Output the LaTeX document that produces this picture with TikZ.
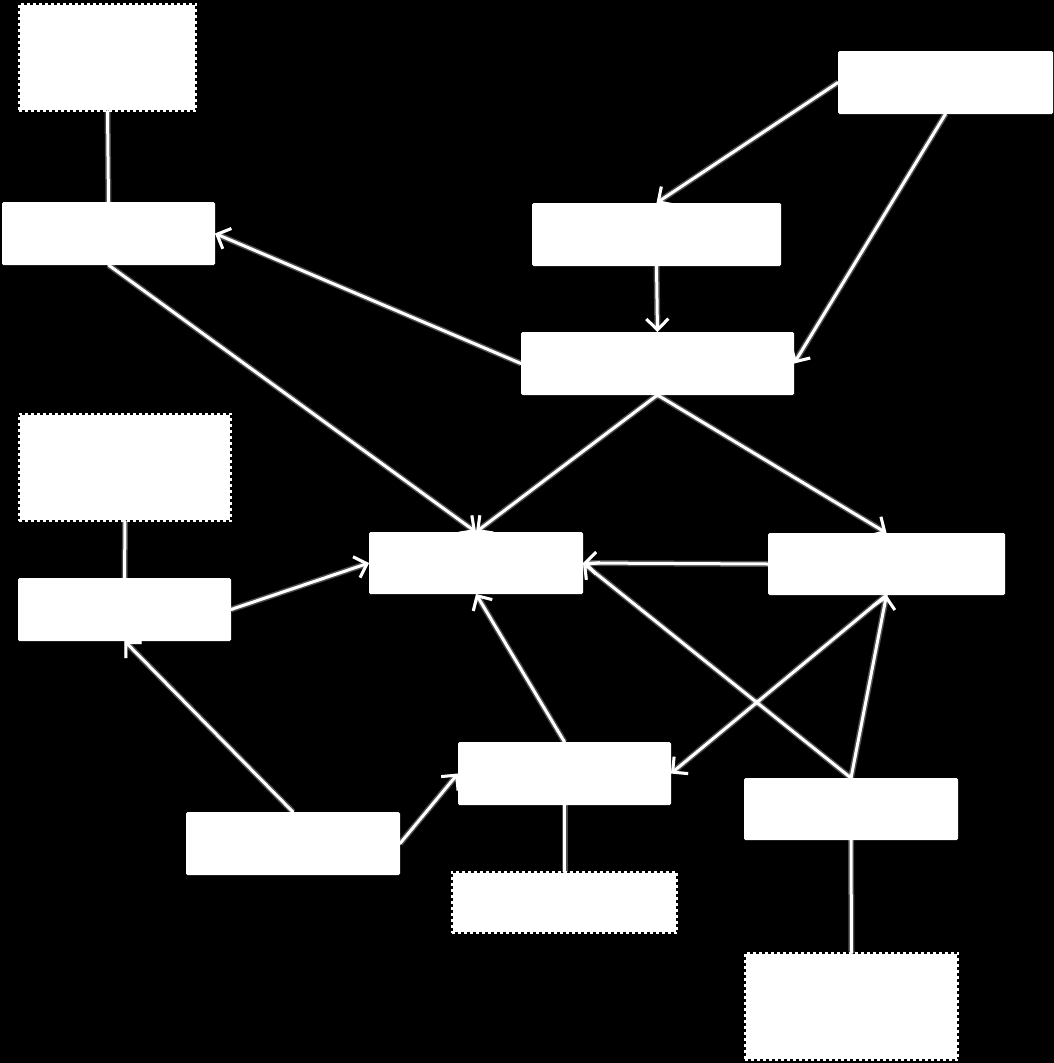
\documentclass[tikz,border=0pt]{standalone}
\usetikzlibrary{arrows.meta}
\begin{document}
\begin{tikzpicture}[x=1pt,y=-1pt,
  box/.style={fill=white, rounded corners=1.5pt, inner sep=0pt, outer sep=0pt},
  dbox/.style={fill=white, inner sep=0pt, outer sep=0pt, draw=black, line width=2pt,
     postaction={draw=white, line width=2pt, dash pattern=on 3pt off 3pt}},
  link/.style={draw=white, line width=3pt, line cap=round,
     preaction={draw=white, opacity=0.3, line width=6pt}},
  arr/.style={link, -{Straight Barb[length=11pt,width=22pt,line width=3pt]}}
]
\fill[black] (0,0) rectangle (1054,1063);
\useasboundingbox (0,0) rectangle (1054,1063);

\node[dbox, minimum width=177pt, minimum height=107pt] (A) at (107.5,57.5) {};
\node[box, minimum width=213pt, minimum height=63pt] (B) at (108.5,233.5) {};
\node[box, minimum width=215pt, minimum height=63pt] (C) at (945.5,82.5) {};
\node[box, minimum width=249pt, minimum height=63pt] (D) at (656.5,234.5) {};
\node[box, minimum width=273pt, minimum height=63pt] (E) at (657.5,363.5) {};
\node[dbox, minimum width=212pt, minimum height=107pt] (F) at (125,467.5) {};
\node[box, minimum width=213pt, minimum height=63pt] (G) at (124.5,609.5) {};
\node[box, minimum width=214pt, minimum height=62pt] (H) at (476,563) {};
\node[box, minimum width=237pt, minimum height=62pt] (I) at (886.5,564) {};
\node[box, minimum width=213pt, minimum height=63pt] (J) at (564.5,773.5) {};
\node[box, minimum width=214pt, minimum height=62pt] (K) at (851,809) {};
\node[box, minimum width=214pt, minimum height=63pt] (L) at (293,843.5) {};
\node[dbox, minimum width=225pt, minimum height=61pt] (M) at (564.5,902.5) {};
\node[dbox, minimum width=213pt, minimum height=107pt] (N) at (851.5,1006.5) {};

\draw[link] (A.south) -- (B.north);
\draw[arr] (C.west) -- (D.north);
\draw[arr] (C.south) -- (E.east);
\draw[arr] (D.south) -- (E.north);
\draw[arr] (E.west) -- (B.east);
\draw[arr] (B.south) -- (H.north);
\draw[arr] (E.south) -- (H.north);
\draw[arr] (E.south) -- (I.north);
\draw[arr] (I.west) -- (H.east);
\draw[link] (F.south) -- (G.north);
\draw[arr] (G.east) -- (H.west);
\draw[arr] (J.north) -- (H.south);
\draw[arr] (L.north) -- (G.south);
\draw[arr] (L.east) -- (J.west);
\draw[arr] (K.north) -- (H.east);
\draw[arr] (K.north) -- (I.south);
\draw[arr] (I.south) -- (J.east);
\draw[link] (J.south) -- (M.north);
\draw[link] (K.south) -- (N.north);
\end{tikzpicture}
\end{document}
